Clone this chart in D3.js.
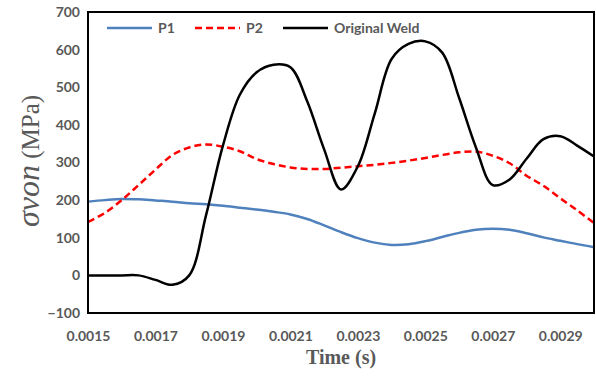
<!DOCTYPE html>
<html>
<head>
<meta charset="utf-8">
<script src="https://cdn.jsdelivr.net/npm/d3@7"></script>
<style>
  body { margin: 0; background: #fff; }
  .tick text { font-family: Lato, "Open Sans", sans-serif; font-weight: bold; font-size: 14px; fill: #595959; }
</style>
</head>
<body>
<div id="chart"></div>
<script>
// time values (s)
var times = [0.00150, 0.00155, 0.00160, 0.00165, 0.00170, 0.00175, 0.00180, 0.00185,
    0.00190, 0.00195, 0.00200, 0.00205, 0.00210, 0.00215, 0.00220, 0.00225,
    0.00230, 0.00235, 0.00240, 0.00245, 0.00250, 0.00255, 0.00260, 0.00265,
    0.00270, 0.00275, 0.00280, 0.00285, 0.00290, 0.00295, 0.00300];
var p1 = [196, 200, 203, 202, 199, 196, 192, 189, 185, 180, 175, 169, 162, 150, 133, 115,
    99, 87, 81, 83, 91, 102, 113, 121, 124, 121, 112, 101, 92, 83, 75];
var p2 = [142, 166, 200, 240, 281, 320, 340, 348, 342, 330, 309, 296, 287, 283, 283, 286,
    290, 294, 299, 305, 312, 320, 327, 329, 318, 298, 265, 238, 205, 173, 139];
var weld = [0, 0, 0, 0, -12, -25, 0, 160, 345, 480, 540, 560, 553, 462, 335, 228,
    290, 430, 575, 615, 622, 592, 472, 340, 240, 255, 310, 362, 370, 345, 316];
var xTicks = [0.0015, 0.0017, 0.0019, 0.0021, 0.0023, 0.0025, 0.0027, 0.0029];
var yTicks = [-100, 0, 100, 200, 300, 400, 500, 600, 700];

var series = [
    { name: "P1", values: p1, color: "#4f81bd", dash: null },
    { name: "P2", values: p2, color: "#ff0000", dash: "7,4" },
    { name: "Original Weld", values: weld, color: "#000000", dash: null }
];

var w = 596, h = 376;
var plotL = 88, plotR = 594, plotT = 12, plotB = 313;

var svg = d3.select("#chart").append("svg")
    .attr("width", w)
    .attr("height", h);

var xScale = d3.scaleLinear().domain([0.0015, 0.0030]).range([plotL, plotR]);
var yScale = d3.scaleLinear().domain([-100, 700]).range([plotB, plotT]);

// axes (labels only, frame drawn separately)
var xAxis = d3.axisBottom(xScale).tickValues(xTicks).tickSize(0).tickPadding(18)
    .tickFormat(d3.format(".4f"));
var yAxis = d3.axisLeft(yScale).tickValues(yTicks).tickSize(0).tickPadding(8);

svg.append("g")
    .attr("transform", "translate(0," + plotB + ")")
    .call(xAxis)
    .call(function(g) { g.select(".domain").remove(); });
svg.append("g")
    .attr("transform", "translate(" + plotL + ",0)")
    .call(yAxis)
    .call(function(g) { g.select(".domain").remove(); });

// lines
var line = d3.line()
    .x(function(d, i) { return xScale(times[i]); })
    .y(function(d) { return yScale(d); })
    .curve(d3.curveCatmullRom.alpha(0.5));

series.forEach(function(s) {
    svg.append("path")
        .attr("d", line(s.values))
        .attr("fill", "none")
        .attr("stroke", s.color)
        .attr("stroke-width", 2.5)
        .attr("stroke-dasharray", s.dash);
});

// frame
svg.append("rect")
    .attr("x", plotL)
    .attr("y", plotT)
    .attr("width", plotR - plotL)
    .attr("height", plotB - plotT)
    .attr("fill", "none")
    .attr("stroke", "#000")
    .attr("stroke-width", 2);

// legend
var legendX = [107, 195, 283];
series.forEach(function(s, i) {
    svg.append("line")
        .attr("x1", legendX[i]).attr("x2", legendX[i] + 45)
        .attr("y1", 28).attr("y2", 28)
        .attr("stroke", s.color)
        .attr("stroke-width", 2.5)
        .attr("stroke-dasharray", s.dash);
    svg.append("text")
        .attr("x", legendX[i] + 51)
        .attr("y", 32.5)
        .attr("font-family", "Lato, 'Open Sans', sans-serif")
        .attr("font-weight", "bold")
        .attr("font-size", "14px")
        .attr("fill", "#595959")
        .text(s.name);
});

// axis titles
svg.append("text")
    .attr("x", 341)
    .attr("y", 364)
    .attr("text-anchor", "middle")
    .attr("font-family", "'Liberation Serif', 'Times New Roman', serif")
    .attr("font-weight", "bold")
    .attr("font-size", "20px")
    .attr("fill", "#595959")
    .text("Time (s)");

var yTitle = svg.append("text")
    .attr("transform", "translate(39,161) rotate(-90)")
    .attr("text-anchor", "middle")
    .attr("font-family", "'Liberation Serif', 'Times New Roman', serif")
    .attr("font-size", "25px")
    .attr("fill", "#595959");
yTitle.append("tspan").attr("font-style", "italic").attr("font-size", "32px").text("σvon");
yTitle.append("tspan").text(" (MPa)");
</script>
</body>
</html>
